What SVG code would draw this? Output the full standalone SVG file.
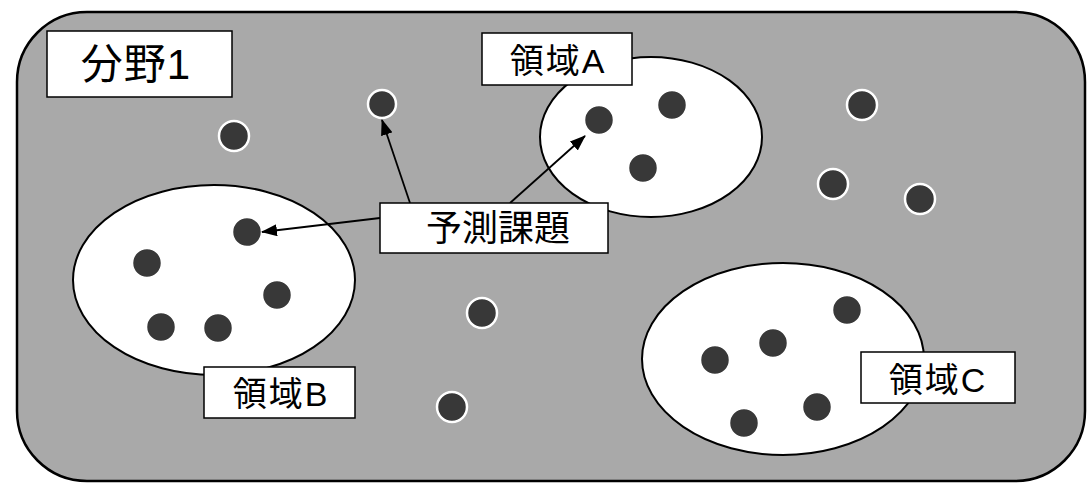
<svg xmlns="http://www.w3.org/2000/svg" width="1090" height="483" viewBox="0 0 1090 483">
  <defs>
    <style>
      .field { fill: #a9a9a9; stroke: #000; stroke-width: 2.5; }
      .domain { fill: #fff; stroke: #000; stroke-width: 2; }
      .item { fill: #383838; stroke: #fff; stroke-width: 2.5; }
      .box { fill: #fff; stroke: #000; stroke-width: 1.5; }
      .lbl { font-family: "Liberation Sans", "Noto Sans CJK JP", sans-serif; fill: #000; text-anchor: middle; dominant-baseline: central; }
      .link { stroke: #000; stroke-width: 1.8; fill: none; marker-end: url(#arrow); }
    </style>
    <marker id="arrow" markerUnits="userSpaceOnUse" markerWidth="16" markerHeight="12" refX="15" refY="6" orient="auto">
      <path d="M0,0 L16,6 L0,12 Z" fill="#000"/>
    </marker>
  </defs>

  <!-- field background -->
  <g id="field1">
    <rect class="field" x="17" y="12" width="1068" height="469" rx="70" ry="70"/>
  </g>

  <!-- domains -->
  <g id="domainA">
    <ellipse class="domain" cx="651" cy="137" rx="111" ry="80"/>
  </g>
  <g id="domainB">
    <ellipse class="domain" cx="214" cy="280" rx="141" ry="95"/>
  </g>
  <g id="domainC">
    <ellipse class="domain" cx="783" cy="359" rx="141" ry="96"/>
  </g>

  <!-- forecasting items -->
  <g id="items">
    <circle class="item" cx="234" cy="136" r="15"/>
    <circle class="item" cx="382" cy="104" r="14"/>
    <circle class="item" cx="599" cy="120" r="15"/>
    <circle class="item" cx="672" cy="105" r="15"/>
    <circle class="item" cx="643" cy="168" r="15"/>
    <circle class="item" cx="862" cy="105" r="15"/>
    <circle class="item" cx="833" cy="184" r="15"/>
    <circle class="item" cx="920" cy="199" r="15"/>
    <circle class="item" cx="247" cy="232" r="15"/>
    <circle class="item" cx="147" cy="263" r="15"/>
    <circle class="item" cx="277" cy="295" r="15"/>
    <circle class="item" cx="161" cy="327" r="15"/>
    <circle class="item" cx="218" cy="328" r="15"/>
    <circle class="item" cx="482" cy="313" r="15"/>
    <circle class="item" cx="452" cy="407" r="15"/>
    <circle class="item" cx="847" cy="310" r="15"/>
    <circle class="item" cx="773" cy="343" r="15"/>
    <circle class="item" cx="715" cy="360" r="15"/>
    <circle class="item" cx="817" cy="407" r="15"/>
    <circle class="item" cx="744" cy="423" r="15"/>
  </g>

  <!-- connectors -->
  <g id="connectors">
    <line class="link" x1="410" y1="203" x2="382" y2="120"/>
    <line class="link" x1="510" y1="203" x2="585" y2="136"/>
    <line class="link" x1="380" y1="218" x2="262" y2="232"/>
  </g>

  <!-- labels -->
  <g id="label-field1">
    <rect class="box" x="47" y="31" width="185" height="66"/>
    <text class="lbl" x="136" y="64" font-size="42" letter-spacing="1">分野1</text>
  </g>
  <g id="label-domainA">
    <rect class="box" x="482" y="33" width="150" height="52"/>
    <text class="lbl" x="558" y="61" font-size="34" letter-spacing="2">領域A</text>
  </g>
  <g id="label-task">
    <rect class="box" x="380" y="203" width="228" height="50"/>
    <text class="lbl" x="498" y="228" font-size="36">予測課題</text>
  </g>
  <g id="label-domainB">
    <rect class="box" x="204" y="367" width="151" height="51"/>
    <text class="lbl" x="281" y="394" font-size="34" letter-spacing="2">領域B</text>
  </g>
  <g id="label-domainC">
    <rect class="box" x="861" y="352" width="154" height="51"/>
    <text class="lbl" x="938" y="380" font-size="34" letter-spacing="2">領域C</text>
  </g>
</svg>
